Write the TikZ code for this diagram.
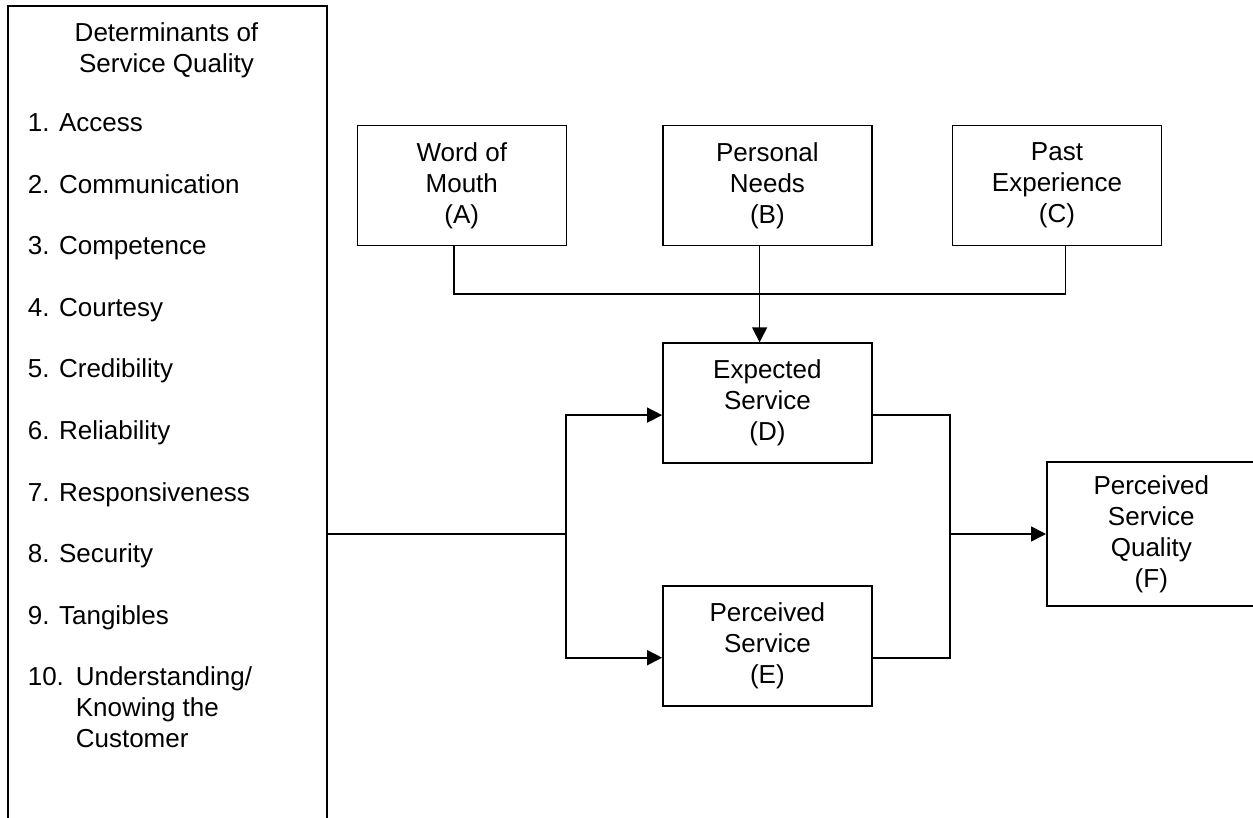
\documentclass[tikz,border=0pt]{standalone}
\usepackage{fontspec}
\setmainfont{Liberation Sans}
\usepackage{tikz}
\usetikzlibrary{positioning,arrows.meta}
\tikzstyle{every node}=[font=\fontsize{13}{15.5}\selectfont]
\tikzstyle{factor}=[draw,thick,align=center,minimum width=104.5pt,minimum height=60pt]
\tikzstyle{item}=[anchor=base west,inner sep=0pt]

\begin{document}
\begin{tikzpicture}[x=0.5pt,y=-0.5pt,thick,>={Triangle[length=7.5pt,width=7.5pt]}]
\useasboundingbox (0,0) rectangle (1253,818);
\clip (0,0) rectangle (1253,818);
% determinants box (runs off the bottom)
\node[draw,thick,anchor=north west,minimum width=159.5pt,minimum height=420pt] (det) at (7,5) {};
\node[align=center,inner sep=0pt] (title) at (166.5,50) {Determinants of\\Service Quality};
\foreach \n/\t [count=\i] in {1/Access,2/Communication,3/Competence,4/Courtesy,5/Credibility,
    6/Reliability,7/Responsiveness,8/Security,9/Tangibles}
  \node[item] (item\i) at (27,132+61.5*\i-61.5) {\n. \t};
\node[item] (item10) at (27,685.5) {10.};
\node[item] (item10t) at (75,685.5) {\begin{tabular}[t]{@{}l@{}}Understanding/\\Knowing the\\Customer\end{tabular}};

% factors
\node[factor] (A) at (461.8,185.5) {Word of\\Mouth\\(A)};
\node[factor] (B) [right=47.5pt of A] {Personal\\Needs\\(B)};
\node[factor] (C) [right=39.5pt of B] {Past\\Experience\\(C)};
\node[factor] (D) [below=48pt of B] {Expected\\Service\\(D)};
\node[factor] (E) [below=60.5pt of D] {Perceived\\Service\\(E)};
\node[factor,anchor=west,minimum height=72pt] (F) at (1046,534) {Perceived\\Service\\Quality\\(F)};

% connectors
\coordinate (split) at (566,534);
\coordinate (merge) at (950,534);
\draw ([xshift=-3.9pt]A.south) |- ([xshift=4.2pt,yshift=-24pt]C.south) -- ([xshift=4.2pt]C.south);
\draw[->] ([xshift=-3.9pt]B.south) -- ([xshift=-3.9pt]D.north);
\draw (det.east |- split) -- (split);
\draw[->] (split) |- ([yshift=-6pt]D.west);
\draw[->] (split) |- ([yshift=-6pt]E.west);
\draw ([yshift=-6pt]D.east) -| (merge) |- ([yshift=-6pt]E.east);
\draw[->] (merge) -- (F.west);
\end{tikzpicture}
\end{document}
